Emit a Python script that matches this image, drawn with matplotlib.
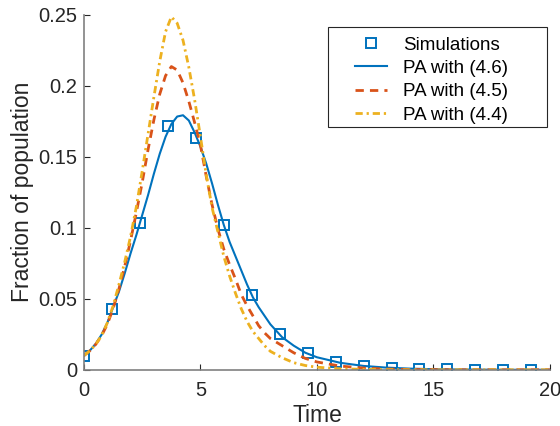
import numpy as np
import matplotlib
matplotlib.use("Agg")
import matplotlib.pyplot as plt
from matplotlib.patches import Rectangle

plt.rcParams['font.family'] = ['Liberation Sans', 'DejaVu Sans']

# simulation points (every 1.2 time units)
t_sim = [0, 1.2, 2.4, 3.6, 4.8, 6.0, 7.2, 8.4, 9.6, 10.8, 12.0, 13.2, 14.4, 15.6, 16.8, 18.0, 19.2]
y_sim = [0.010, 0.0425, 0.1035, 0.1718, 0.1633, 0.102, 0.0526, 0.025, 0.0115, 0.0058, 0.0028,
         0.0013, 0.0006, 0.0003, 0.0001, 0.0, 0.0]

# time grid for the approximations
t_pa = [0, 0.25, 0.5, 0.75, 1.0, 1.25, 1.5, 1.75, 2.0, 2.25, 2.5, 2.75, 3.0, 3.25, 3.5, 3.75,
        4.0, 4.25, 4.5, 4.75, 5.0, 5.25, 5.5, 5.75, 6.0, 6.25, 6.5, 6.75, 7.0, 7.25, 7.5, 7.75,
        8.0, 8.5, 9.0, 9.5, 10, 11, 12, 13, 14, 15, 16, 17, 18, 19, 20]

pa_46 = [0.010, 0.0135, 0.0182, 0.0246, 0.033, 0.044, 0.055, 0.068, 0.082, 0.095, 0.109, 0.123,
         0.138, 0.152, 0.164, 0.173, 0.1783, 0.1792, 0.1755, 0.167, 0.157, 0.145, 0.131, 0.116,
         0.102, 0.090, 0.080, 0.070, 0.060, 0.051, 0.044, 0.038, 0.032, 0.023, 0.017, 0.012,
         0.0088, 0.0049, 0.0027, 0.0015, 0.0008, 0.0004, 0.0002, 0.0001, 0.0, 0.0, 0.0]

pa_45 = [0.010, 0.0134, 0.0178, 0.0238, 0.032, 0.043, 0.057, 0.073, 0.091, 0.111, 0.132, 0.155,
         0.176, 0.194, 0.207, 0.2135, 0.211, 0.202, 0.189, 0.174, 0.158, 0.136, 0.116, 0.099,
         0.085, 0.074, 0.064, 0.053, 0.045, 0.038, 0.031, 0.026, 0.022, 0.017, 0.012, 0.008,
         0.0055, 0.0026, 0.0012, 0.0005, 0.0002, 0.0001, 0.0, 0.0, 0.0, 0.0, 0.0]

pa_44 = [0.010, 0.0134, 0.0178, 0.024, 0.033, 0.045, 0.060, 0.076, 0.094, 0.115, 0.140, 0.166,
         0.192, 0.217, 0.238, 0.2485, 0.244, 0.232, 0.213, 0.190, 0.164, 0.137, 0.114, 0.097,
         0.080, 0.066, 0.054, 0.043, 0.034, 0.027, 0.022, 0.017, 0.013, 0.0085, 0.005, 0.003,
         0.0018, 0.0007, 0.0003, 0.0001, 0.0, 0.0, 0.0, 0.0, 0.0, 0.0, 0.0]

blue = '#0072BD'
orange = '#D95319'
yellow = '#EDB120'
dark = '#262626'

fig = plt.figure(figsize=(5.6, 4.26), dpi=100)
ax = fig.add_axes([0.15, 0.132, 0.832, 0.8335])

ax.plot(t_sim, y_sim, 's', color=blue, mfc='none', mew=1.4, ms=6.5, label='Simulations')
ax.plot(t_pa, pa_46, '-', color=blue, lw=1.5, label='PA with (4.6)')
ax.plot(t_pa, pa_45, '--', color=orange, lw=2.0, dashes=(3, 2.2), label='PA with (4.5)')
ax.plot(t_pa, pa_44, '-.', color=yellow, lw=2.0, dashes=(2.6, 1.4, 0.8, 1.4), label='PA with (4.4)')

ax.set_xlim(0, 20)
ax.set_ylim(0, 0.25)
ax.set_xticks([0, 5, 10, 15, 20])
ax.set_yticks([0, 0.05, 0.1, 0.15, 0.2, 0.25])
ax.set_yticklabels(['0', '0.05', '0.1', '0.15', '0.2', '0.25'])

for s in ['top', 'right']:
    ax.spines[s].set_visible(False)
for s in ['left', 'bottom']:
    ax.spines[s].set_color('#808080')
    ax.spines[s].set_linewidth(1.2)
ax.tick_params(direction='in', length=4, width=0.8, color=dark,
               labelsize=14.5, labelcolor=dark)
ax.tick_params(axis='x', pad=8)
ax.tick_params(axis='y', pad=5)

ax.set_xlabel('Time', fontsize=16.5, color=dark, labelpad=3)
ax.set_ylabel('Fraction of population', fontsize=16.5, color=dark, labelpad=3)

# legend frame (MATLAB style, wider on the right)
ax.add_patch(Rectangle((328 / 560, 1 - 127 / 426), 219 / 560, 100 / 426,
                       transform=fig.transFigure, facecolor='white', clip_on=False,
                       edgecolor=dark, lw=0.8, zorder=5))
leg = ax.legend(loc='upper left', bbox_to_anchor=(355 / 560, 1 - 36.5 / 426),
                bbox_transform=fig.transFigure, borderaxespad=0, borderpad=0,
                fontsize=13.5, frameon=False, handlelength=1.7,
                handletextpad=0.85, labelspacing=0.33)
leg.set_zorder(6)

fig.savefig('out.png', dpi=100)
